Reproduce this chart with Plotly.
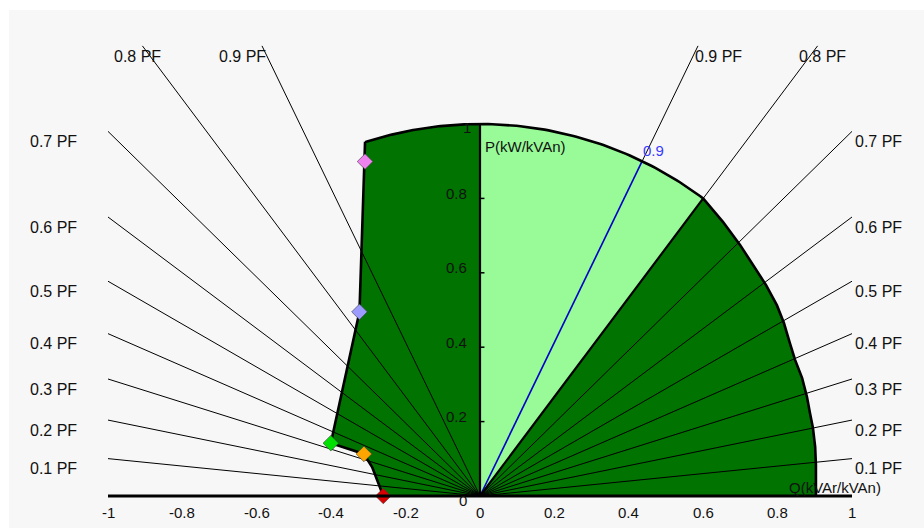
import numpy as np
import plotly.graph_objects as go

# ---------------- data ----------------
pf_values = [0.1, 0.2, 0.3, 0.4, 0.5, 0.6, 0.7, 0.8, 0.9]
pf_labels = ["0.1 PF", "0.2 PF", "0.3 PF", "0.4 PF", "0.5 PF", "0.6 PF", "0.7 PF", "0.8 PF", "0.9 PF"]

# capability boundary, capacitive (left) side: Q, P (per unit)
cap_left_q = [-0.26, -0.29, -0.312, -0.401, -0.324, -0.309, -0.309]
cap_left_p = [0.0, 0.078, 0.113, 0.142, 0.495, 0.899, 0.952]

# capability boundary, inductive (right) side: Q, P (per unit)
cap_right_q = [0.653, 0.699, 0.734, 0.769, 0.798, 0.817, 0.833, 0.847, 0.866,
               0.879, 0.887, 0.895, 0.901, 0.903, 0.903]
cap_right_p = [0.737, 0.675, 0.621, 0.567, 0.513, 0.465, 0.411, 0.366, 0.317,
               0.266, 0.223, 0.183, 0.132, 0.083, 0.0]

# operating points
point_q = [-0.26, -0.312, -0.401, -0.324, -0.309]
point_p = [0.0, 0.113, 0.142, 0.495, 0.899]
point_colors = ["#D80000", "#FFA500", "#00E000", "#9C9CFF", "#EE82EE"]

light_sector_pf = 0.8
highlight_pf = 0.9
highlight_label = "0.9"

x_ticks = [-1, -0.8, -0.6, -0.4, -0.2, 0, 0.2, 0.4, 0.6, 0.8, 1]
x_tick_labels = ["-1", "-0.8", "-0.6", "-0.4", "-0.2", "0", "0.2", "0.4", "0.6", "0.8", "1"]
y_ticks = [0, 0.2, 0.4, 0.6, 0.8, 1.0]
y_tick_labels = ["0", "0.2", "0.4", "0.6", "0.8", "1"]

x_title = "Q(kVAr/kVAn)"
y_title = "P(kW/kVAn)"

# ---------------- style / layout constants ----------------
DARK = "#007300"
LIGHT = "#98FB98"
FONT = "Liberation Sans, Arial, sans-serif"
Q_LIM = 1.0      # PF lines clipped at |Q| = 1
P_LIM = 1.21     # and at P = 1.21
W, H = 924, 528
OX, OY, S = 480, 496, 372.0   # pixel origin and pixels per unit


def arc(a0, a1, n=60):
    t = np.linspace(a0, a1, n)
    return list(np.cos(t)), list(np.sin(t))


def pf_dir(pf):
    return np.sqrt(1 - pf ** 2), pf


fig = go.Figure()

# left dark region
a_left = np.arctan2(cap_left_p[-1], cap_left_q[-1])
ax, ay = arc(a_left, np.pi / 2)
lx = [0] + cap_left_q + ax + [0]
ly = [0] + cap_left_p + ay + [0]
fig.add_trace(go.Scatter(x=lx, y=ly, fill="toself", fillcolor=DARK, mode="none"))

# right dark region
q8, p8 = pf_dir(light_sector_pf)
a8 = np.arctan2(p8, q8)
bx, by = arc(np.pi / 2, a8)
rx = [0] + bx + cap_right_q + [0]
ry = [0] + by + cap_right_p + [0]
fig.add_trace(go.Scatter(x=rx, y=ry, fill="toself", fillcolor=DARK, mode="none"))

# PF lines
plx, ply = [], []
ends = {}
for pf in pf_values:
    q, p = pf_dir(pf)
    t = min(Q_LIM / q, P_LIM / p)
    for sgn in (-1, 1):
        ex, ey = sgn * q * t, p * t
        ends[(pf, sgn)] = (ex, ey)
        plx += [0, ex, None]
        ply += [0, ey, None]
fig.add_trace(go.Scatter(x=plx, y=ply, mode="lines", line=dict(color="black", width=1)))

# light sector
sx = [0] + bx + [0]
sy = [0] + by + [0]
fig.add_trace(go.Scatter(x=sx, y=sy, fill="toself", fillcolor=LIGHT, mode="none"))

# highlighted PF line
hq, hp = pf_dir(highlight_pf)
fig.add_trace(go.Scatter(x=[0, hq], y=[0, hp], mode="lines", line=dict(color="#0000C8", width=1.6)))

# thick outline
ox = cap_left_q + ax + bx + cap_right_q
oy = cap_left_p + ay + by + cap_right_p
fig.add_trace(go.Scatter(x=ox, y=oy, mode="lines", line=dict(color="black", width=2.6)))
fig.add_trace(go.Scatter(x=[0, q8, None, 0, 0], y=[0, p8, None, 0, 1], mode="lines",
                         line=dict(color="black", width=2.2)))

# y tick marks
tkx, tky = [], []
for v in y_ticks[1:]:
    tkx += [0, 0.012, None]
    tky += [v, v, None]
fig.add_trace(go.Scatter(x=tkx, y=tky, mode="lines", line=dict(color="black", width=1.5)))

# operating points
fig.add_trace(go.Scatter(x=point_q, y=point_p, mode="markers",
                         marker=dict(symbol="diamond", size=12, color=point_colors,
                                     line=dict(color="rgba(60,60,60,0.6)", width=1))))

# x axis line
fig.add_trace(go.Scatter(x=[x_ticks[0], x_ticks[-1]], y=[0, 0], mode="lines",
                         line=dict(color="black", width=3)))

ann = []
txt = dict(family=FONT, size=15, color="#111111")
big = dict(family=FONT, size=16, color="#111111")
for v, lab in zip(x_ticks, x_tick_labels):
    ann.append(dict(x=v, y=-16 / S, text=lab, showarrow=False, xanchor="center",
                    yanchor="middle", font=txt))
for v, lab in zip(y_ticks, y_tick_labels):
    if v == 0:
        dx, dy = -11 / S, -4 / S
    elif v >= 1:
        dx, dy = -7 / S, -3 / S
    else:
        dx, dy = -11 / S, 5 / S
    ann.append(dict(x=dx, y=v + dy, text=lab, showarrow=False, xanchor="right",
                    yanchor="middle", font=txt))

for pf, lab in zip(pf_values, pf_labels):
    for sgn in (-1, 1):
        ex, ey = ends[(pf, sgn)]
        if abs(ex) >= Q_LIM - 1e-9:
            if sgn < 0:
                ann.append(dict(x=-452 / S, y=ey - 10 / S, text=lab, showarrow=False,
                                xanchor="left", yanchor="middle", font=big))
            else:
                ann.append(dict(x=ex + 1 / S, y=ey - 10 / S, text=lab, showarrow=False,
                                xanchor="left", yanchor="middle", font=big))
        else:
            shift = 20 / S if pf > 0.85 else 5 / S
            ann.append(dict(x=ex + sgn * shift, y=ey - 11 / S, text=lab, showarrow=False,
                            xanchor="center", yanchor="middle", font=big))

ann.append(dict(x=3 / S, y=(OY - 146) / S, text=y_title, showarrow=False,
                xanchor="left", yanchor="middle", font=txt))
ann.append(dict(x=(787 - OX) / S, y=9 / S, text=x_title, showarrow=False,
                xanchor="left", yanchor="middle", font=txt))
ann.append(dict(x=hq - 1 / S, y=hp + 11 / S, text=highlight_label, showarrow=False,
                xanchor="left", yanchor="middle",
                font=dict(family=FONT, size=15, color="#3A3AFF")))

fig.update_layout(
    width=W, height=H,
    margin=dict(l=0, r=0, t=0, b=0),
    paper_bgcolor="white",
    plot_bgcolor="rgba(0,0,0,0)",
    showlegend=False,
    xaxis=dict(range=[-OX / S, (W - OX) / S], visible=False, fixedrange=True),
    yaxis=dict(range=[-(H - OY) / S, OY / S], visible=False, fixedrange=True),
    annotations=ann,
    shapes=[dict(type="rect", xref="paper", yref="paper", x0=9 / W, x1=1,
                 y0=0, y1=1 - 10 / H, fillcolor="#F7F7F7", line=dict(width=0),
                 layer="below")],
    hovermode=False,
)

fig.write_html("out.html", config={"displayModeBar": False},
               post_script="document.body.style.margin='0';document.body.style.overflow='hidden';")
